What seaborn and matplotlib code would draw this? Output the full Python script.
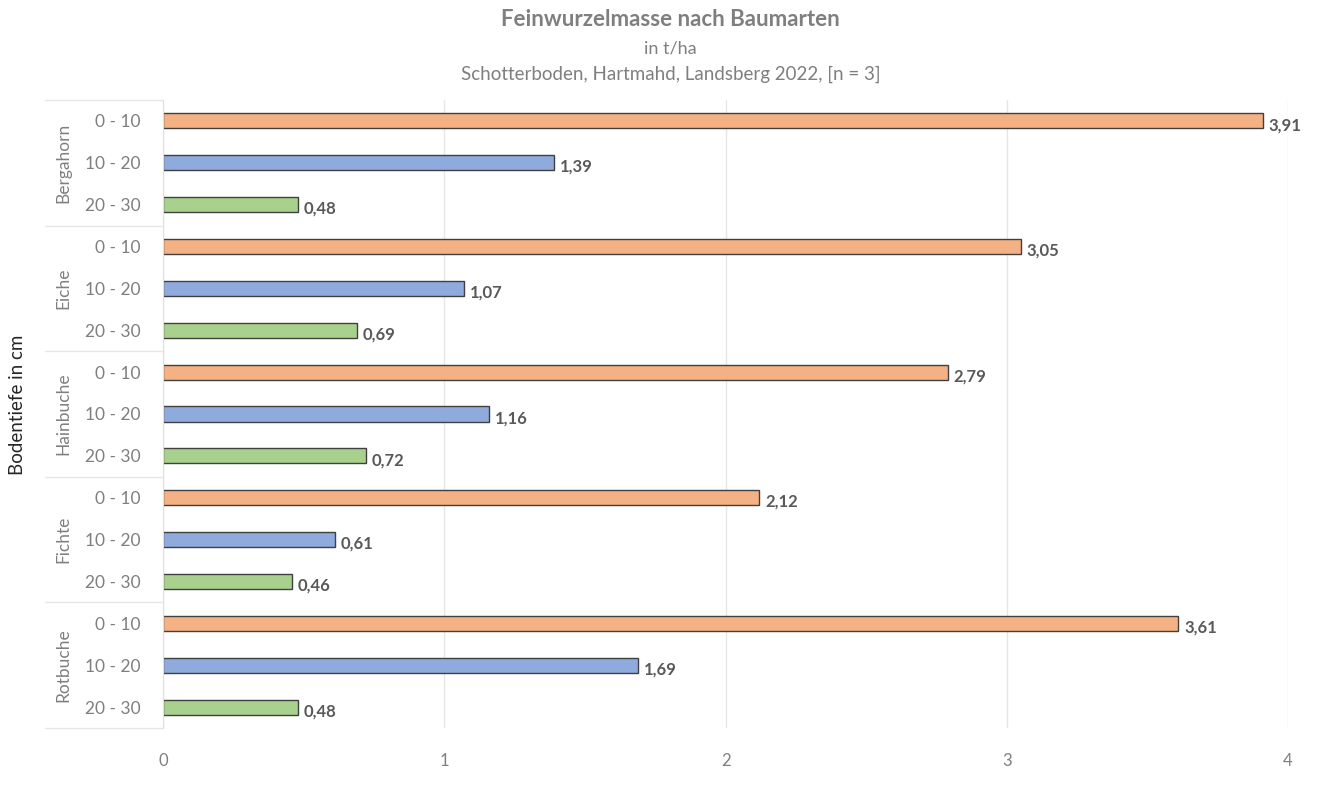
import pandas as pd
import seaborn as sns
import matplotlib.pyplot as plt

# values (t/ha)
species = ['Bergahorn', 'Eiche', 'Hainbuche', 'Fichte', 'Rotbuche']
depths = ['0 - 10', '10 - 20', '20 - 30']
val_0_10 = [3.91, 3.05, 2.79, 2.12, 3.61]
val_10_20 = [1.39, 1.07, 1.16, 0.61, 1.69]
val_20_30 = [0.48, 0.69, 0.72, 0.46, 0.48]
x_ticks = [0, 1, 2, 3, 4]

colors = ['#F4B183', '#8FAADC', '#A9D18E']

rows = []
for i, sp in enumerate(species):
    for d, vals in zip(depths, [val_0_10, val_10_20, val_20_30]):
        rows.append({'row': f'{sp}|{d}', 'species': sp, 'depth': d, 'value': vals[i]})
df = pd.DataFrame(rows)

sns.set_style('white')
plt.rcParams['font.family'] = ['Lato', 'DejaVu Sans']

fig = plt.figure(figsize=(13.41, 7.87), dpi=100)
ax = fig.add_axes([163 / 1341, 1 - 728 / 787, (1288 - 163) / 1341, 628 / 787])

sns.barplot(data=df, y='row', x='value', hue='depth', palette=colors, saturation=1,
            dodge=False, width=0.36, edgecolor='#404040', linewidth=1.0,
            legend=False, ax=ax, orient='h')

ax.set_xlim(0, 4)
ax.set_ylim(len(df) - 0.5, -0.5)
ax.set_xticks(x_ticks)
ax.set_xticklabels([str(t) for t in x_ticks], color='#7f7f7f', fontsize=12)
ax.set_yticks(range(len(df)))
ax.set_yticklabels(df['depth'], color='#7f7f7f', fontsize=12.5)
ax.tick_params(axis='y', length=0, pad=16)
ax.tick_params(axis='x', length=0, pad=18)
ax.set_xlabel('')
ax.set_ylabel('')
ax.grid(axis='x', color='#e6e6e6', linewidth=1)
ax.set_axisbelow(True)
for s in ['top', 'right', 'bottom']:
    ax.spines[s].set_visible(False)
ax.spines['left'].set_color('#e0e0e0')

# value labels
for i, v in enumerate(df['value']):
    ax.text(v + 0.02, i + 0.1, f'{v:.2f}'.replace('.', ','), va='center', ha='left',
            fontsize=12, fontweight='bold', color='#595959', clip_on=False)

# species group labels and separators in the left margin
for g, sp in enumerate(species):
    ax.text(-100 / 1125 * 4, g * 3 + 1, sp, rotation=90, ha='center', va='center',
            color='#7f7f7f', fontsize=12.5, transform=ax.transData, clip_on=False)
for b in range(len(species) + 1):
    yb = b * 3 - 0.5
    ax.plot([-118 / 1125 * 4, 0], [yb, yb], color='#e6e6e6', linewidth=1, clip_on=False)

fig.text(18 / 1341, 1 - 405 / 787, 'Bodentiefe in cm', rotation=90, ha='center', va='center',
         fontsize=13.5, color='#262626')

fig.text(0.5, 1 - 20 / 787, 'Feinwurzelmasse nach Baumarten', ha='center', va='center',
         fontsize=16, fontweight='bold', color='#7f7f7f')
fig.text(0.5, 1 - 48 / 787, 'in t/ha', ha='center', va='center', fontsize=13, color='#7f7f7f')
fig.text(0.5, 1 - 74 / 787, 'Schotterboden, Hartmahd, Landsberg 2022, [n = 3]', ha='center',
         va='center', fontsize=13.5, color='#7f7f7f')

fig.savefig('out.png', dpi=100)
